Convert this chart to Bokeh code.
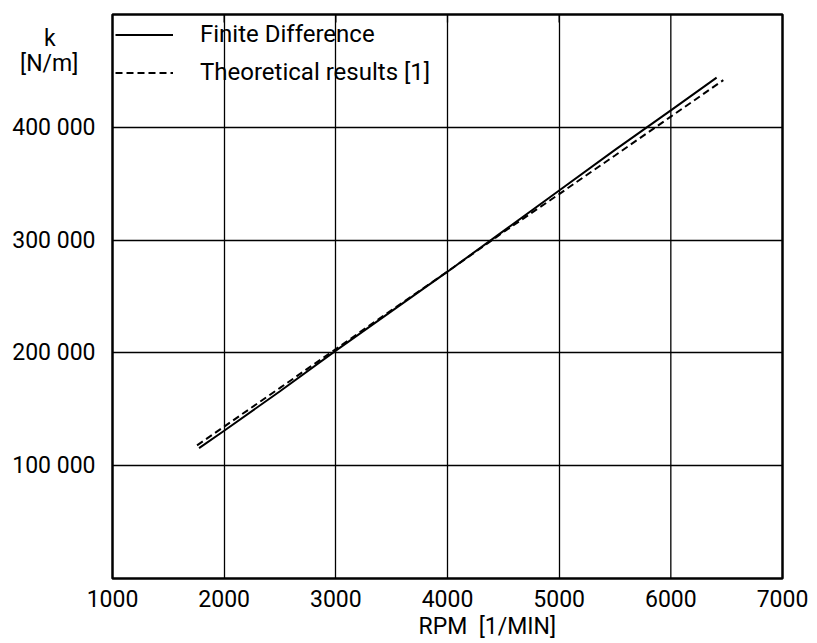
from bokeh.plotting import figure
from bokeh.models import Range1d, FixedTicker, Legend, LegendItem, Title
from bokeh.embed import file_html
from bokeh.resources import INLINE

# ---- data ----
rpm_fd = [1775, 2000, 2500, 3000, 3500, 4000, 4500, 5000, 5500, 6000, 6410]
k_fd = [115600, 131000, 166000, 202000, 237000, 272000, 308000, 344000, 380000, 415000, 444000]

rpm_th = [1757, 2000, 2500, 3000, 3500, 4000, 4500, 5000, 5500, 6000, 6470]
k_th = [118000, 134700, 169000, 203400, 238000, 272100, 307000, 340800, 375000, 409500, 441800]

x_ticks = [1000, 2000, 3000, 4000, 5000, 6000, 7000]
x_tick_labels = ["1000", "2000", "3000", "4000", "5000", "6000", "7000"]
y_ticks = [100000, 200000, 300000, 400000]
y_tick_labels = ["100 000", "200 000", "300 000", "400 000"]
inner_grid_x = [2000, 3000, 4000, 5000]

series_names = ["Finite Difference", "Theoretical results [1]"]
x_title = "RPM \u00a0[1/MIN]"
y_title_top = "k"
y_title_bottom = "[N/m]"

FONT = "Roboto"
FS = "23px"
NB = "\u00a0"

p = figure(width=817, height=643, output_backend="svg", toolbar_location=None,
           x_range=Range1d(1000, 7000), y_range=Range1d(0, 500000),
           min_border_left=112, min_border_right=35, min_border_top=14, min_border_bottom=65)

p.background_fill_color = "white"
p.border_fill_color = "white"
p.outline_line_color = "black"
p.outline_line_width = 2.5

# axes (the y-axis title "k [N/m]" sits at the top of the left axis, as in the original)
title_pos = [478700, 456600]
p.xaxis.ticker = FixedTicker(ticks=x_ticks)
p.xaxis.major_label_overrides = {t: l for t, l in zip(x_ticks, x_tick_labels)}
p.yaxis.ticker = FixedTicker(ticks=y_ticks + title_pos)
overrides = {t: l for t, l in zip(y_ticks, y_tick_labels)}
overrides[title_pos[0]] = y_title_top + NB * 7
overrides[title_pos[1]] = y_title_bottom + NB * 3
p.yaxis.major_label_overrides = overrides
for ax in (p.xaxis[0], p.yaxis[0]):
    ax.axis_line_color = None
    ax.major_tick_line_color = None
    ax.minor_tick_line_color = None
    ax.major_label_text_font = FONT
    ax.major_label_text_font_size = FS
    ax.major_label_text_color = "black"
p.xaxis.major_label_standoff = 5
p.yaxis.major_label_standoff = 11

# grids
p.xgrid.ticker = FixedTicker(ticks=inner_grid_x)
p.xgrid.grid_line_color = "black"
p.xgrid.grid_line_width = 1.3
p.xgrid.bounds = (0, 404000)
p.ygrid.ticker = FixedTicker(ticks=y_ticks)
p.ygrid.grid_line_color = "black"
p.ygrid.grid_line_width = 1.5

# 6000 gridline runs full height
p.segment(x0=[x_ticks[5]], y0=[0], x1=[x_ticks[5]], y1=[500000], line_color="black", line_width=1.3)
# small inner ticks at top border
p.segment(x0=inner_grid_x, y0=[500000] * 4, x1=inner_grid_x, y1=[493000] * 4,
          line_color="black", line_width=1.3)

# series
r_fd = p.line(rpm_fd, k_fd, line_color="black", line_width=2)
r_th = p.line(rpm_th, k_th, line_color="black", line_width=2, line_dash="7 4")

legend = Legend(items=[LegendItem(label=series_names[0], renderers=[r_fd]),
                       LegendItem(label=series_names[1], renderers=[r_th])],
                location=(3, 492), orientation="vertical",
                glyph_width=58, glyph_height=27, label_height=27,
                label_standoff=27, spacing=10, padding=0, margin=0,
                border_line_alpha=0, background_fill_alpha=0,
                label_text_font=FONT, label_text_font_size="24px", label_text_color="black")
p.add_layout(legend)

# x axis title
p.add_layout(Title(text=x_title, text_font=FONT, text_font_size=FS, text_font_style="normal",
                   text_color="black", align="left", offset=306, standoff=2), "below")

open("out.html", "w").write(file_html(p, INLINE))
